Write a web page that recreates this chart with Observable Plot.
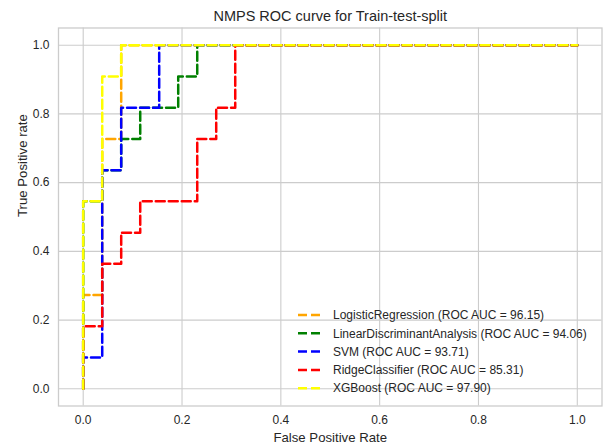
<!DOCTYPE html>
<html>
<head>
<meta charset="utf-8">
<script src="https://cdn.jsdelivr.net/npm/d3@7"></script>
<script src="https://cdn.jsdelivr.net/npm/@observablehq/plot@0.6"></script>
<style>
  html, body { margin: 0; padding: 0; background: #fff; }
  #chart svg { display: block; font-family: "Liberation Sans", Arial, sans-serif; }
</style>
</head>
<body>
<div id="chart"></div>
<script>
// ROC curve vertices (false positive rate, true positive rate) per classifier
const models = ["LogisticRegression", "LinearDiscriminantAnalysis", "SVM", "RidgeClassifier", "XGBoost"];
const colors = ["#ffa500", "#008000", "#0000ff", "#ff0000", "#ffff00"];
const aucs = [96.15, 94.06, 93.71, 85.31, 97.90];

const fprLogReg = [0, 0, 0.0385, 0.0385, 0.0769, 0.0769, 1];
const tprLogReg = [0, 0.2727, 0.2727, 0.7273, 0.7273, 1, 1];

const fprLDA = [0, 0, 0.0385, 0.0385, 0.0769, 0.0769, 0.1154, 0.1154, 0.1923, 0.1923, 0.2308, 0.2308, 1];
const tprLDA = [0, 0.5455, 0.5455, 0.6364, 0.6364, 0.7273, 0.7273, 0.8182, 0.8182, 0.9091, 0.9091, 1, 1];

const fprSVM = [0, 0, 0.0385, 0.0385, 0.0769, 0.0769, 0.1538, 0.1538, 1];
const tprSVM = [0, 0.0909, 0.0909, 0.6364, 0.6364, 0.8182, 0.8182, 1, 1];

const fprRidge = [0, 0, 0.0385, 0.0385, 0.0769, 0.0769, 0.1154, 0.1154, 0.2308, 0.2308, 0.2692, 0.2692, 0.3077, 0.3077, 1];
const tprRidge = [0, 0.1818, 0.1818, 0.3636, 0.3636, 0.4545, 0.4545, 0.5455, 0.5455, 0.7273, 0.7273, 0.8182, 0.8182, 1, 1];

const fprXGB = [0, 0, 0.0385, 0.0385, 0.0769, 0.0769, 1];
const tprXGB = [0, 0.5455, 0.5455, 0.9091, 0.9091, 1, 1];

const xTicks = [0, 0.2, 0.4, 0.6, 0.8, 1.0];
const yTicks = [0, 0.2, 0.4, 0.6, 0.8, 1.0];

const fprs = [fprLogReg, fprLDA, fprSVM, fprRidge, fprXGB];
const tprs = [tprLogReg, tprLDA, tprSVM, tprRidge, tprXGB];

const rows = models.flatMap((m, i) =>
  fprs[i].map((f, j) => ({model: m, fpr: f, tpr: tprs[i][j]}))
);

const textColor = "#262626";
const gridColor = "#cccccc";
const dash = "9,4";

// Legend drawn in the lower right of the frame, without a box
const legend = (index, scales, values, dims) => {
  const g = d3.create("svg:g")
    .attr("font-size", 12)
    .attr("text-anchor", "start")
    .attr("fill", textColor);
  const x0 = 298, step = 18.3, y0 = 315;
  models.forEach((m, i) => {
    const y = y0 + i * step;
    g.append("line")
      .attr("x1", x0).attr("x2", x0 + 25)
      .attr("y1", y).attr("y2", y)
      .attr("stroke", colors[i])
      .attr("stroke-width", 2.5)
      .attr("stroke-dasharray", dash);
    g.append("text")
      .attr("x", x0 + 35).attr("y", y)
      .attr("dy", "0.35em")
      .attr("text-anchor", "start")
      .text(`${m} (ROC AUC = ${aucs[i].toFixed(2)})`);
  });
  return g.node();
};

const chart = Plot.plot({
  width: 608,
  height: 445,
  marginLeft: 58,
  marginRight: 6.5,
  marginTop: 27.5,
  marginBottom: 39.5,
  style: {fontFamily: "'Liberation Sans', Arial, sans-serif", color: textColor, background: "#fff"},
  x: {domain: [-0.05, 1.05], ticks: xTicks, tickFormat: d => d.toFixed(1)},
  y: {domain: [-0.05, 1.05], ticks: yTicks, tickFormat: d => d.toFixed(1)},
  color: {domain: models, range: colors},
  marks: [
    Plot.gridX(xTicks, {stroke: gridColor, strokeOpacity: 1, strokeWidth: 1.1}),
    Plot.gridY(yTicks, {stroke: gridColor, strokeOpacity: 1, strokeWidth: 1.1}),
    Plot.frame({stroke: gridColor, strokeWidth: 1.3}),
    Plot.axisX(xTicks, {tickSize: 0, tickPadding: 9, fontSize: 12, label: null, tickFormat: d => d.toFixed(1)}),
    Plot.axisY(yTicks, {tickSize: 0, tickPadding: 9, fontSize: 12, label: null, tickFormat: d => d.toFixed(1)}),
    Plot.line(rows, {
      x: "fpr", y: "tpr", z: "model", stroke: "model",
      strokeWidth: 2.5, strokeDasharray: dash, curve: "linear"
    }),
    Plot.text(["NMPS ROC curve for Train-test-split"], {
      frameAnchor: "top", dy: -12, fontSize: 14.5, fill: textColor, lineAnchor: "middle"
    }),
    Plot.text(["False Positive Rate"], {
      frameAnchor: "bottom", dy: 31.5, fontSize: 13.2, fill: textColor, lineAnchor: "middle"
    }),
    Plot.text(["True Positive rate"], {
      frameAnchor: "left", dx: -36, rotate: -90, fontSize: 13.2, fill: textColor, lineAnchor: "middle"
    }),
    legend
  ]
});

document.getElementById("chart").append(chart);
</script>
</body>
</html>
